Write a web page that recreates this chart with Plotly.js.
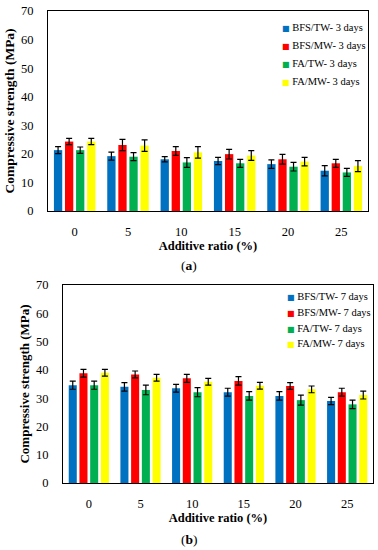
<!DOCTYPE html>
<html><head><meta charset="utf-8">
<script src="https://cdn.plot.ly/plotly-3.0.1.min.js"></script>
<style>html,body{margin:0;padding:0;background:#fff}#chart{width:378px;height:550px}</style>
</head><body><div id="chart"></div>
<script>
// ---- data ----
const ratios = ['0', '5', '10', '15', '20', '25'];
const seriesNames3 = ['BFS/TW- 3 days', 'BFS/MW- 3 days', 'FA/TW- 3 days', 'FA/MW- 3 days'];
const seriesNames7 = ['BFS/TW- 7 days', 'BFS/MW- 7 days', 'FA/TW- 7 days', 'FA/MW- 7 days'];
const colors = ['#0070C0', '#FF0000', '#00B050', '#FFFF00'];

// 3 days
const bfsTW3 = [21.3, 19.2, 18.1, 17.5, 16.4, 14.1];
const bfsMW3 = [24.3, 23.1, 21.0, 19.9, 18.1, 16.7];
const faTW3  = [21.3, 19.0, 17.0, 16.7, 15.5, 13.5];
const faMW3  = [24.3, 22.9, 20.5, 19.4, 17.3, 15.7];
const bfsTW3err = [1.2, 1.4, 0.9, 1.3, 1.5, 1.8];
const bfsMW3err = [1.1, 2.0, 1.5, 1.7, 1.7, 1.4];
const faTW3err  = [1.1, 1.4, 1.7, 1.4, 1.5, 1.4];
const faMW3err  = [1.1, 2.0, 2.0, 1.7, 1.5, 1.9];

// 7 days
const bfsTW7 = [34.6, 34.0, 33.5, 32.1, 30.8, 29.0];
const bfsMW7 = [38.8, 38.4, 37.0, 36.1, 34.3, 32.1];
const faTW7  = [34.6, 32.9, 32.1, 30.8, 29.3, 27.8];
const faMW7  = [39.0, 37.2, 35.8, 34.4, 33.1, 31.1];
const bfsTW7err = [1.45, 1.5, 1.4, 1.4, 1.5, 1.3];
const bfsMW7err = [1.4, 1.2, 1.4, 1.5, 1.2, 1.4];
const faTW7err  = [1.45, 1.7, 1.6, 1.5, 1.8, 1.5];
const faMW7err  = [1.2, 1.2, 1.2, 1.2, 1.2, 1.4];

const yTitle = 'Compressive strength (MPa)';
const xTitle = 'Additive ratio (%)';
const panelLabels = ['(<b>a</b>)', '(<b>b</b>)'];

// ---- build ----
const FONT = 'Liberation Serif, Times New Roman, serif';
const W = 378, H = 550;
const px = v => v / W;
const py = v => 1 - v / H;

const vals3 = [bfsTW3, bfsMW3, faTW3, faMW3];
const errs3 = [bfsTW3err, bfsMW3err, faTW3err, faMW3err];
const vals7 = [bfsTW7, bfsMW7, faTW7, faMW7];
const errs7 = [bfsTW7err, bfsMW7err, faTW7err, faMW7err];

function bar(name, y, err, color, xa, ya) {
  return {
    type: 'bar', name: name, x: ratios, y: y, xaxis: xa, yaxis: ya,
    marker: {color: color, line: {width: 0}},
    error_y: {type: 'data', array: err, visible: true, color: '#000', thickness: 1.2, width: 3},
    showlegend: false, hoverinfo: 'x+y+name'
  };
}
const data = [];
for (let i = 0; i < 4; i++) data.push(bar(seriesNames3[i], vals3[i], errs3[i], colors[i], 'x', 'y'));
for (let i = 0; i < 4; i++) data.push(bar(seriesNames7[i], vals7[i], errs7[i], colors[i], 'x2', 'y2'));

function xax(domain, anchor) {
  return {
    type: 'category', domain: domain, anchor: anchor,
    showline: true, mirror: true, linecolor: '#000', linewidth: 1,
    showgrid: false, zeroline: false, ticks: '',
    tickfont: {family: FONT, size: 12.5, color: '#000'},
    ticklabelstandoff: 9,
    title: {text: '<b>' + xTitle + '</b>', font: {family: FONT, size: 12.5, color: '#000'}, standoff: 2}
  };
}
function yax(domain, anchor, tsz, so) {
  return {
    domain: domain, anchor: anchor, range: [0, 70], dtick: 10,
    showline: true, mirror: true, linecolor: '#000', linewidth: 1,
    showgrid: false, zeroline: false, ticks: '',
    tickfont: {family: FONT, size: 12.5, color: '#000'},
    ticklabelstandoff: 11,
    title: {text: '<b>' + yTitle + '</b>', font: {family: FONT, size: tsz, color: '#000'}, standoff: so}
  };
}

const annotations = [];
const leg3 = {x: 280, y: [27.5, 45.5, 63.5, 81.5]};
const leg7 = {x: 284.5, y: [296.5, 312.5, 328, 343.5]};
function addLegend(names, pos) {
  for (let i = 0; i < 4; i++) {
    annotations.push({
      xref: 'paper', yref: 'paper', x: px(pos.x), y: py(pos.y[i]),
      xanchor: 'left', yanchor: 'middle', showarrow: false,
      text: '<span style="color:' + colors[i] + ';font-size:8px;font-family:DejaVu Sans">■</span> ' + names[i],
      font: {family: FONT, size: 10.5, color: '#000'}
    });
  }
}
addLegend(seriesNames3, leg3);
addLegend(seriesNames7, leg7);
annotations.push({xref: 'paper', yref: 'paper', x: px(189), y: py(265), xanchor: 'center', yanchor: 'middle',
  showarrow: false, text: panelLabels[0], font: {family: FONT, size: 13.5, color: '#000'}});
annotations.push({xref: 'paper', yref: 'paper', x: px(189), y: py(539), xanchor: 'center', yanchor: 'middle',
  showarrow: false, text: panelLabels[1], font: {family: FONT, size: 13.5, color: '#000'}});

const layout = {
  width: W, height: H,
  margin: {l: 0, r: 0, t: 0, b: 0, autoexpand: false},
  paper_bgcolor: '#fff', plot_bgcolor: '#fff',
  barmode: 'group', bargap: 0.17, bargroupgap: 0.25,
  font: {family: FONT, color: '#000'},
  xaxis: xax([px(48), px(368)], 'y'),
  yaxis: yax([py(211), py(11)], 'x', 13.5, 3),
  xaxis2: xax([px(63), px(373)], 'y2'),
  yaxis2: yax([py(483), py(285)], 'x2', 13, 3),
  annotations: annotations,
  showlegend: false
};
Plotly.newPlot('chart', data, layout, {displayModeBar: false, staticPlot: true});
</script>
</body></html>
